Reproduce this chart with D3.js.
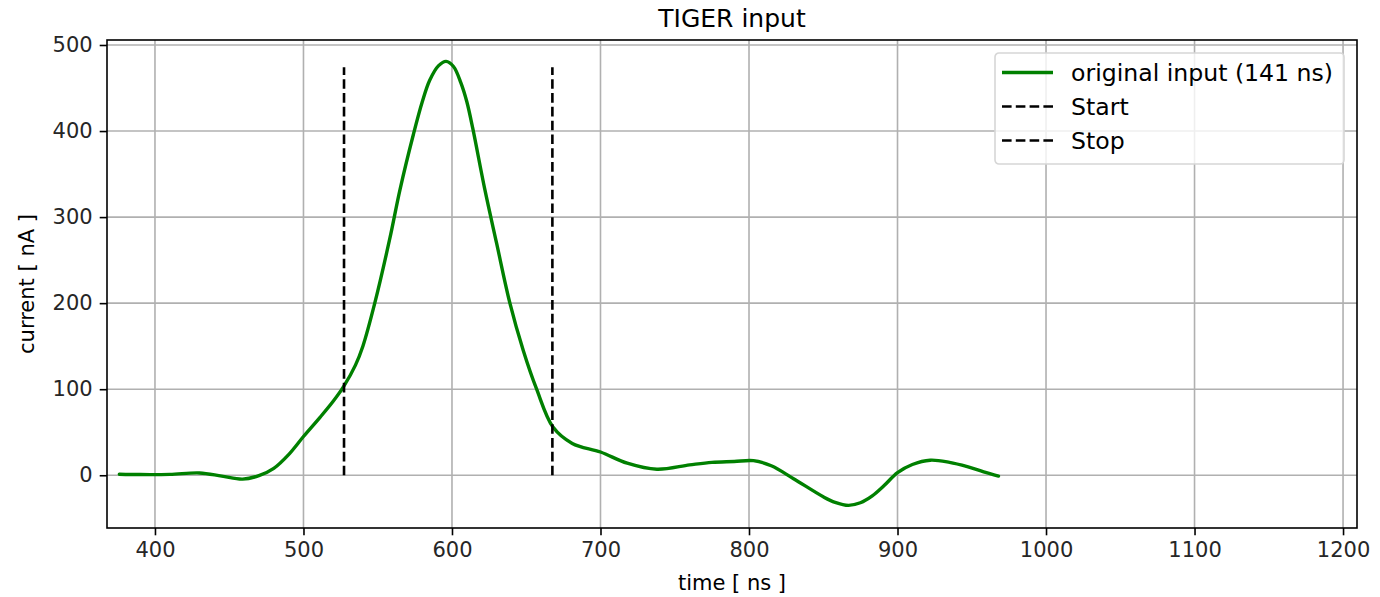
<!DOCTYPE html>
<html>
<head>
<meta charset="utf-8">
<script src="https://cdn.jsdelivr.net/npm/d3@7"></script>
<style>
  body { margin: 0; background: #fff; }
  text { font-family: "DejaVu Sans", sans-serif; fill: #000; }
</style>
</head>
<body>
<div id="chart"></div>
<script>
// input current, time in ns / current in nA
const timeNs = [376, 390, 410, 430, 445, 459, 470, 480, 490, 500, 511, 520, 527, 535, 540, 548, 558, 565, 574, 580, 585, 591, 596,
  601, 606, 610, 614, 622, 630, 639, 648, 657, 668, 681, 700, 718, 738, 760, 775, 790, 803, 815, 830, 850, 858, 867,
  875, 883, 891, 900, 910, 922, 935, 947, 958, 968]
const currentNa = [1.2, 0.8, 1, 2.7, -1, -4.5, -0.5, 8, 24, 45, 67, 86, 103, 128, 150, 200, 274, 332, 396, 434, 459, 476, 481,
  475, 456, 434, 403, 333, 270, 200, 145, 100, 56, 37, 27, 14, 7, 12, 15, 16, 17, 11, -4, -25, -31.5, -35,
  -32, -24, -12, 3, 12.5, 17.5, 15, 10, 4, -1]

const startStop = [527.3, 667.6]
const markerTop = 474

const xTicks = [400, 500, 600, 700, 800, 900, 1000, 1100, 1200]
const yTicks = [0, 100, 200, 300, 400, 500]
const legendLabels = ["original input (141 ns)", "Start", "Stop"]

const width = 1380, height = 597
const margin = {top: 40, right: 23, bottom: 69, left: 107}
const innerW = width - margin.left - margin.right
const innerH = height - margin.top - margin.bottom

const svg = d3.select("#chart").append("svg").attr("width", width).attr("height", height)
const g = svg.append("g").attr("transform", `translate(${margin.left},${margin.top})`)

let x = d3.scaleLinear().domain([367.7, 1209.4]).range([0, innerW])
let y = d3.scaleLinear().domain([-61.3, 505.8]).range([innerH, 0])

// grid
g.selectAll(".gx").data(xTicks).enter().append("line")
  .attr("x1", d => x(d)).attr("x2", d => x(d)).attr("y1", 0).attr("y2", innerH)
  .style("stroke", "#b0b0b0").style("stroke-width", 1.6)
g.selectAll(".gy").data(yTicks).enter().append("line")
  .attr("x1", 0).attr("x2", innerW).attr("y1", d => y(d)).attr("y2", d => y(d))
  .style("stroke", "#b0b0b0").style("stroke-width", 1.6)

// signal
const pts = timeNs.map((t, i) => [t, currentNa[i]])
const line = d3.line().x(d => x(d[0])).y(d => y(d[1])).curve(d3.curveCatmullRom.alpha(0.5))
g.append("path").datum(pts).attr("d", line)
  .style("fill", "none").style("stroke", "#008000").style("stroke-width", 3.4)
  .style("stroke-linejoin", "round").style("stroke-linecap", "round")

// start / stop markers
g.selectAll(".mark").data(startStop).enter().append("line")
  .attr("x1", d => x(d)).attr("x2", d => x(d)).attr("y1", y(0)).attr("y2", y(markerTop))
  .style("stroke", "#000").style("stroke-width", 2.6).style("stroke-dasharray", "9.6,4.2")

// axes
const xAxis = g.append("g").attr("transform", `translate(0,${innerH})`)
  .call(d3.axisBottom(x).tickValues(xTicks).tickFormat(d3.format("d")).tickSize(7.3).tickPadding(7))
const yAxis = g.append("g").call(d3.axisLeft(y).tickValues(yTicks).tickFormat(d3.format("d")).tickSize(7.3).tickPadding(7))
;[xAxis, yAxis].forEach(a => {
  a.select(".domain").remove()
  a.selectAll("line").style("stroke", "#000").style("stroke-width", 1.6)
  a.selectAll("text").style("font-size", "21px").style("font-family", "DejaVu Sans").style("fill", "#262626")
})

// frame
g.append("rect").attr("width", innerW).attr("height", innerH)
  .style("fill", "none").style("stroke", "#000").style("stroke-width", 1.6)

// labels
svg.append("text").attr("x", margin.left + innerW / 2).attr("y", 27).attr("text-anchor", "middle")
  .style("font-size", "25px").text("TIGER input")
svg.append("text").attr("x", margin.left + innerW / 2).attr("y", 590).attr("text-anchor", "middle")
  .style("font-size", "21px").text("time [ ns ]")
svg.append("text").attr("transform", `translate(34,${margin.top + innerH / 2}) rotate(-90)`)
  .attr("text-anchor", "middle").style("font-size", "21px").text("current [ nA ]")

// legend
const lg = svg.append("g").attr("transform", "translate(995,53)")
lg.append("rect").attr("width", 349).attr("height", 111).attr("rx", 4)
  .style("fill", "rgba(255,255,255,0.8)").style("stroke", "#d6d6d6").style("stroke-width", 1.6)
legendLabels.forEach((lab, i) => {
  const cy = 19.5 + i * 34
  lg.append("line").attr("x1", 7).attr("x2", 58).attr("y1", cy).attr("y2", cy)
    .style("stroke", i == 0 ? "#008000" : "#000").style("stroke-width", i == 0 ? 3.4 : 2.6)
    .style("stroke-dasharray", i == 0 ? null : "9.6,4.2")
  lg.append("text").attr("x", 76).attr("y", cy + 8.5).style("font-size", "23.6px").text(lab)
})
</script>
</body>
</html>
